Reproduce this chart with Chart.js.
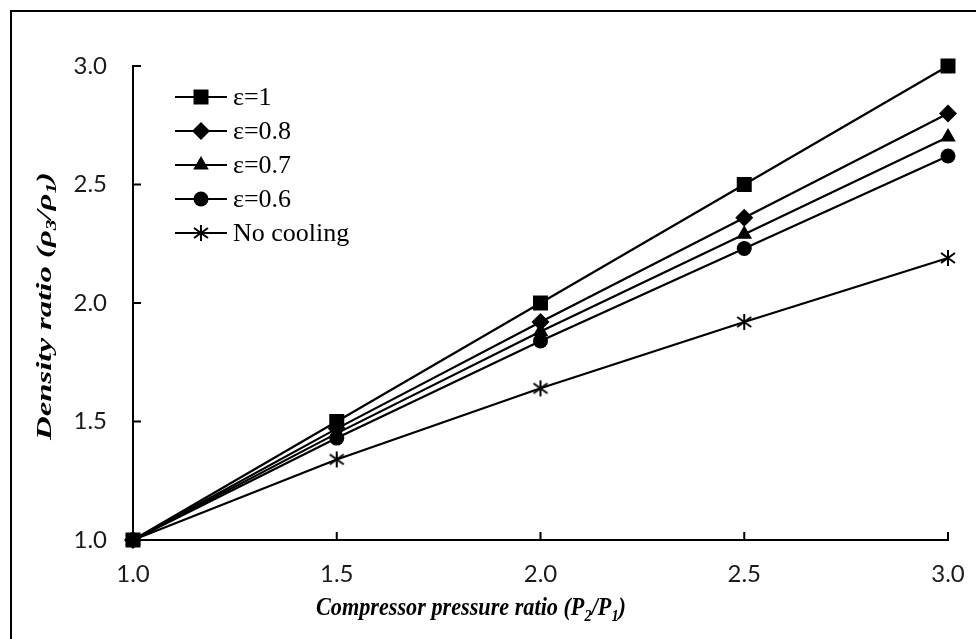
<!DOCTYPE html>
<html>
<head>
<meta charset="utf-8">
<script src="https://cdn.jsdelivr.net/npm/chart.js@4/dist/chart.umd.min.js"></script>
<style>
  html, body { margin: 0; padding: 0; background: #fff; }
  #wrap { width: 976px; height: 639px; }
</style>
</head>
<body>
<div id="wrap"><canvas id="chart" width="976" height="639"></canvas></div>
<script>
// ── data ────────────────────────────────────────────────────────
const pressureRatio = [1.0, 1.5, 2.0, 2.5, 3.0];
const eps10   = [1.00, 1.50, 2.00, 2.50, 3.00];
const eps08   = [1.00, 1.47, 1.92, 2.36, 2.80];
const eps07   = [1.00, 1.45, 1.88, 2.29, 2.70];
const eps06   = [1.00, 1.43, 1.84, 2.23, 2.62];
const noCool  = [1.00, 1.34, 1.64, 1.92, 2.19];
const seriesLabels = ["ε=1", "ε=0.8", "ε=0.7", "ε=0.6", "No cooling"];
const tickValues = [1.0, 1.5, 2.0, 2.5, 3.0];

// asterisk marker (Excel style: X plus vertical bar)
const star = document.createElement("canvas");
star.width = 18; star.height = 18;
(function () {
  const c = star.getContext("2d");
  c.strokeStyle = "#000"; c.lineWidth = 2;
  c.beginPath();
  c.moveTo(9, 1);  c.lineTo(9, 17);
  c.moveTo(2, 4);  c.lineTo(16, 14);
  c.moveTo(16, 4); c.lineTo(2, 14);
  c.stroke();
})();

const styles = [
  { pointStyle: "rect",     radius: 10.6 },
  { pointStyle: "rectRot",  radius: 9 },
  { pointStyle: "triangle", radius: 9 },
  { pointStyle: "circle",   radius: 7.5 },
  { pointStyle: star,       radius: 8 },
];
const allSeries = [eps10, eps08, eps07, eps06, noCool];

const datasets = allSeries.map((vals, i) => ({
  label: seriesLabels[i],
  data: vals.map((v, j) => ({ x: pressureRatio[j], y: v })),
  borderColor: "#000",
  backgroundColor: "#000",
  borderWidth: 2.2,
  pointStyle: styles[i].pointStyle,
  pointRadius: styles[i].radius,
  pointBorderWidth: 0,
  pointBackgroundColor: "#000",
  tension: 0,
  clip: false,
}));

// draw text with subscripts: parts = [[text, isSub], ...]
function richWidth(ctx, parts, size) {
  let w = 0;
  parts.forEach(([t, sub]) => {
    ctx.font = `italic bold ${sub ? size * 0.65 : size}px "Liberation Serif", serif`;
    w += ctx.measureText(t).width;
  });
  return w;
}
function drawRich(ctx, parts, size, x, y) {
  parts.forEach(([t, sub]) => {
    ctx.font = `italic bold ${sub ? size * 0.65 : size}px "Liberation Serif", serif`;
    ctx.fillText(t, x, sub ? y + size * 0.22 : y);
    x += ctx.measureText(t).width;
  });
}

const decor = {
  id: "decor",
  afterDraw(chart) {
    const ctx = chart.ctx;
    const xs = chart.scales.x, ys = chart.scales.y;
    ctx.save();
    // outer frame (top + left only visible)
    ctx.strokeStyle = "#000"; ctx.lineWidth = 2;
    ctx.beginPath();
    ctx.moveTo(11, 639); ctx.lineTo(11, 11); ctx.lineTo(976, 11);
    ctx.stroke();

    // inside tick marks
    ctx.lineWidth = 2;
    ctx.beginPath();
    tickValues.forEach(v => {
      const py = ys.getPixelForValue(v);
      ctx.moveTo(xs.left, py); ctx.lineTo(xs.left + 8, py);
      const px = xs.getPixelForValue(v);
      ctx.moveTo(px, ys.bottom); ctx.lineTo(px, ys.bottom - 8);
    });
    ctx.stroke();

    // axis titles
    ctx.fillStyle = "#000";
    ctx.textBaseline = "alphabetic";
    ctx.textAlign = "left";
    const xt = [["Compressor pressure ratio (P", 0], ["2", 1], ["/P", 0], ["1", 1], [")", 0]];
    const xfs = 26;
    const xw = richWidth(ctx, xt, xfs);
    ctx.save();
    ctx.translate(471, 615);
    ctx.scale(310 / xw, 1);
    drawRich(ctx, xt, xfs, -xw / 2, 0);
    ctx.restore();

    const yt = [["Density ratio (", 0], ["ρ", 0], ["3", 1], ["/", 0], ["ρ", 0], ["1", 1], [")", 0]];
    const yfs = 22;
    const yw = richWidth(ctx, yt, yfs);
    ctx.save();
    ctx.translate(51, 306);
    ctx.rotate(-Math.PI / 2);
    ctx.scale(268 / yw, 1);
    drawRich(ctx, yt, yfs, -yw / 2, 0);
    ctx.restore();

    // legend
    const rows = [97, 131, 165, 199, 233];
    chart.data.datasets.forEach((ds, i) => {
      const y = rows[i];
      ctx.strokeStyle = "#000"; ctx.lineWidth = 2.2;
      ctx.beginPath(); ctx.moveTo(175, y); ctx.lineTo(227, y); ctx.stroke();
      ctx.fillStyle = "#000";
      Chart.helpers.drawPoint(ctx, {
        pointStyle: ds.pointStyle, radius: ds.pointRadius, rotation: 0, borderWidth: 0,
      }, 201, y);
      ctx.font = '26px "Liberation Serif", serif';
      ctx.textBaseline = "middle";
      ctx.fillText(ds.label, 233, y + 1);
    });
    ctx.restore();
  },
};

const tickFont = { family: "Lato, 'Open Sans', sans-serif", size: 24 };

new Chart(document.getElementById("chart"), {
  type: "line",
  data: { datasets },
  options: {
    responsive: false,
    animation: false,
    devicePixelRatio: 1,
    layout: { padding: { top: 66, right: 28, left: 0, bottom: 0 } },
    plugins: { legend: { display: false }, tooltip: { enabled: false } },
    scales: {
      x: {
        type: "linear", min: 1, max: 3,
        afterBuildTicks: s => { s.ticks = tickValues.map(v => ({ value: v })); },
        afterFit: s => { s.height = 99; s.paddingLeft = 0; s.paddingRight = 0; },
        grid: { display: false, drawTicks: false },
        border: { color: "#000", width: 2 },
        ticks: { color: "#1a1a1a", font: tickFont, padding: 20, callback: v => v.toFixed(1) },
      },
      y: {
        type: "linear", min: 1, max: 3,
        afterBuildTicks: s => { s.ticks = tickValues.map(v => ({ value: v })); },
        afterFit: s => { s.width = 133; s.paddingTop = 0; s.paddingBottom = 0; },
        grid: { display: false, drawTicks: false },
        border: { color: "#000", width: 2 },
        ticks: { color: "#1a1a1a", font: tickFont, padding: 26, callback: v => v.toFixed(1) },
      },
    },
  },
  plugins: [decor],
});
</script>
</body>
</html>
